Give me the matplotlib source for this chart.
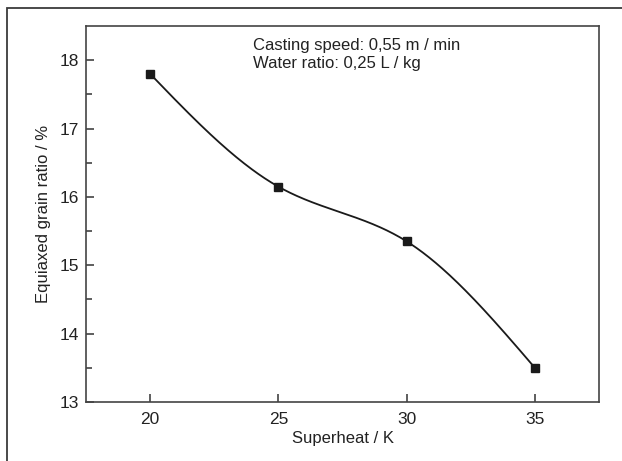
import numpy as np
import matplotlib
matplotlib.use("Agg")
import matplotlib.pyplot as plt
from matplotlib.patches import Rectangle

superheat = [20, 25, 30, 35]
grain_ratio = [17.8, 16.15, 15.35, 13.5]
x_ticks = [20, 25, 30, 35]
y_ticks = [13, 14, 15, 16, 17, 18]


def natural_spline(x, y, xs):
    x = np.asarray(x, float); y = np.asarray(y, float)
    n = len(x)
    h = np.diff(x)
    A = np.zeros((n, n)); b = np.zeros(n)
    A[0, 0] = 1; A[-1, -1] = 1
    for i in range(1, n - 1):
        A[i, i - 1] = h[i - 1]
        A[i, i] = 2 * (h[i - 1] + h[i])
        A[i, i + 1] = h[i]
        b[i] = 3 * ((y[i + 1] - y[i]) / h[i] - (y[i] - y[i - 1]) / h[i - 1])
    c = np.linalg.solve(A, b)
    out = np.empty_like(xs)
    for k, xv in enumerate(xs):
        i = min(max(np.searchsorted(x, xv) - 1, 0), n - 2)
        bi = (y[i + 1] - y[i]) / h[i] - h[i] * (2 * c[i] + c[i + 1]) / 3
        di = (c[i + 1] - c[i]) / (3 * h[i])
        dx = xv - x[i]
        out[k] = y[i] + bi * dx + c[i] * dx ** 2 + di * dx ** 3
    return out


plt.rcParams['font.family'] = ['Liberation Sans', 'DejaVu Sans']
fig = plt.figure(figsize=(6.22, 4.61), dpi=100)
fig.patches.append(Rectangle((7 / 622, -0.1), 1.2, 1.1 - 8 / 461,
                             transform=fig.transFigure, fill=False,
                             edgecolor='#3a3a3a', linewidth=1.3, clip_on=False))
ax = fig.add_axes([86 / 622, 1 - 402 / 461, (599 - 86) / 622, (402 - 26) / 461])

xs = np.linspace(superheat[0], superheat[-1], 300)
ax.plot(xs, natural_spline(superheat, grain_ratio, xs), color='#1a1a1a', lw=1.3)
ax.plot(superheat, grain_ratio, 's', color='#1a1a1a', ms=6)

ax.set_xlim(17.5, 37.5)
ax.set_ylim(13, 18.5)
ax.set_xticks(x_ticks)
ax.set_yticks(y_ticks)
ax.set_yticks(np.arange(13.5, 18.5, 1.0), minor=True)
ax.tick_params(which='both', direction='in', width=1.1, colors='#333333',
               labelcolor='#222222', labelsize=12.5)
ax.tick_params(which='major', length=6, pad=5)
ax.tick_params(axis='x', which='major', pad=7)
ax.tick_params(which='minor', length=4)
for s in ax.spines.values():
    s.set_linewidth(1.2)
    s.set_color('#444444')

ax.set_xlabel('Superheat / K', fontsize=12, color='#222222', labelpad=3)
ax.set_ylabel('Equiaxed grain ratio / %', fontsize=12, color='#222222', labelpad=6)
ax.text(0.3255, 0.967, 'Casting speed: 0,55 m / min\nWater ratio: 0,25 L / kg',
        transform=ax.transAxes, fontsize=12, color='#222222', va='top',
        linespacing=1.25)

fig.savefig('out.png', dpi=100)
